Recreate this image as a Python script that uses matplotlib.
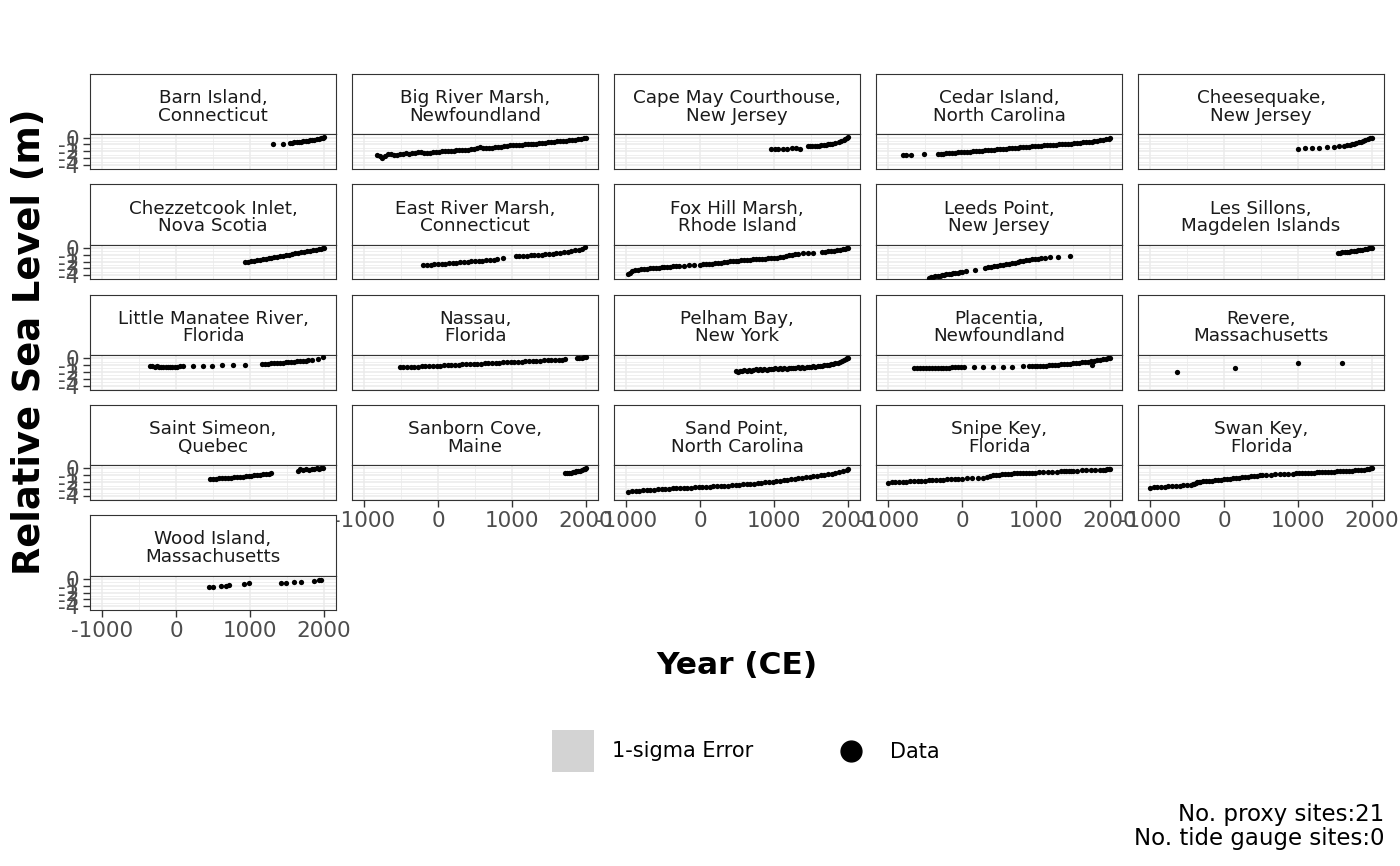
import matplotlib
matplotlib.use("Agg")
import matplotlib.pyplot as plt
from matplotlib.patches import Rectangle

plt.rcParams['font.family'] = ['DejaVu Sans']
plt.rcParams['axes.unicode_minus'] = False

# ---------------- data ----------------
site_names = [
    "Barn Island,\nConnecticut", "Big River Marsh,\nNewfoundland", "Cape May Courthouse,\nNew Jersey",
    "Cedar Island,\nNorth Carolina", "Cheesequake,\nNew Jersey",
    "Chezzetcook Inlet,\nNova Scotia", "East River Marsh,\nConnecticut", "Fox Hill Marsh,\nRhode Island",
    "Leeds Point,\nNew Jersey", "Les Sillons,\nMagdelen Islands",
    "Little Manatee River,\nFlorida", "Nassau,\nFlorida", "Pelham Bay,\nNew York",
    "Placentia,\nNewfoundland", "Revere,\nMassachusetts",
    "Saint Simeon,\nQuebec", "Sanborn Cove,\nMaine", "Sand Point,\nNorth Carolina",
    "Snipe Key,\nFlorida", "Swan Key,\nFlorida",
    "Wood Island,\nMassachusetts",
]

barn_year = [1315, 1450, 1540, 1570, 1600, 1630, 1660, 1690, 1720, 1750, 1780, 1810, 1840, 1870, 1900, 1930, 1960, 1985, 2000]
barn_rsl = [-0.95, -0.92, -0.80, -0.76, -0.72, -0.69, -0.65, -0.61, -0.56, -0.52, -0.47, -0.42, -0.36, -0.30, -0.23, -0.16, -0.09, -0.03, 0.02]

bigriver_year = [-830, -790, -750, -710, -670, -630, -590, -550, -510, -470, -430, -390, -350, -310, -270, -230, -190, -150,
                 -110, -70, -30, 10, 50, 90, 130, 170, 210, 250, 290, 330, 370, 410, 450, 490, 530, 570, 610, 650, 690, 730,
                 770, 810, 850, 890, 930, 970, 1010, 1050, 1090, 1130, 1170, 1210, 1250, 1290, 1330, 1370, 1410, 1450, 1490,
                 1530, 1570, 1610, 1650, 1690, 1730, 1770, 1810, 1850, 1890, 1930, 1970, 2000]
bigriver_rsl = [-2.55, -2.75, -3.0, -2.7, -2.45, -2.4, -2.5, -2.55, -2.45, -2.35, -2.3, -2.35, -2.3, -2.25, -2.15, -2.1, -2.2, -2.25,
                -2.2, -2.12, -2.08, -2.05, -2.0, -1.97, -1.93, -1.95, -1.9, -1.87, -1.88, -1.85, -1.8, -1.76, -1.72, -1.68, -1.5, -1.42,
                -1.55, -1.58, -1.5, -1.45, -1.4, -1.36, -1.32, -1.28, -1.22, -1.15, -1.1, -1.08, -1.05, -1.02, -0.98, -0.95, -0.93,
                -0.9, -0.87, -0.84, -0.8, -0.75, -0.7, -0.65, -0.6, -0.56, -0.52, -0.48, -0.45, -0.4, -0.35, -0.3, -0.24, -0.18, -0.1, -0.03]

capemay_year = [960, 1010, 1060, 1120, 1180, 1240, 1300, 1350, 1460, 1490, 1520, 1550, 1580, 1610, 1640, 1670, 1700, 1730,
                1760, 1790, 1820, 1880, 1910, 1940, 1960, 1980, 2000]
capemay_rsl = [-1.72, -1.68, -1.62, -1.6, -1.65, -1.58, -1.55, -1.6, -1.3, -1.27, -1.25, -1.22, -1.2, -1.16, -1.12, -1.08, -1.05, -1.0,
               -0.95, -0.9, -0.85, -0.6, -0.45, -0.3, -0.2, -0.08, 0.02]

cedar_year = [-800, -750, -690, -510, -330, -290, -250, -210, -170, -130, -90, -50, -10, 30, 70, 110, 150, 190, 230, 270, 310, 350,
              390, 430, 470, 510, 550, 590, 630, 670, 710, 750, 790, 830, 870, 910, 950, 990, 1030, 1070, 1110, 1150, 1190, 1230,
              1270, 1310, 1350, 1390, 1430, 1470, 1510, 1550, 1590, 1630, 1670, 1710, 1750, 1790, 1830, 1870, 1910, 1950, 1980, 2000]
cedar_rsl = [-2.55, -2.55, -2.52, -2.45, -2.40, -2.37, -2.33, -2.30, -2.27, -2.24, -2.20, -2.16, -2.12, -2.09, -2.06, -2.03, -2.0,
             -1.96, -1.93, -1.9, -1.86, -1.82, -1.78, -1.74, -1.7, -1.66, -1.63, -1.6, -1.57, -1.53, -1.5, -1.47, -1.43, -1.4, -1.37,
             -1.33, -1.29, -1.25, -1.21, -1.18, -1.15, -1.12, -1.09, -1.06, -1.03, -1.0, -0.97, -0.93, -0.9, -0.87, -0.84, -0.8,
             -0.76, -0.72, -0.68, -0.64, -0.59, -0.54, -0.49, -0.43, -0.35, -0.25, -0.15, -0.08]

cheese_year = [1000, 1090, 1190, 1290, 1390, 1480, 1560, 1620, 1660, 1700, 1730, 1760, 1790, 1820, 1850, 1880, 1910, 1940, 1970, 2000]
cheese_rsl = [-1.6, -1.55, -1.5, -1.46, -1.4, -1.33, -1.25, -1.18, -1.12, -1.05, -0.98, -0.9, -0.82, -0.72, -0.62, -0.5, -0.38, -0.25, -0.12, 0.0]

chezz_year = [930, 970, 1010, 1050, 1090, 1130, 1170, 1210, 1250, 1290, 1330, 1370, 1410, 1450, 1490, 1530, 1570, 1610, 1650,
              1690, 1730, 1770, 1810, 1850, 1890, 1930, 1960, 1985, 2000]
chezz_rsl = [-2.1, -2.02, -1.95, -1.87, -1.8, -1.72, -1.64, -1.57, -1.5, -1.42, -1.35, -1.27, -1.2, -1.12, -1.05, -0.97, -0.9, -0.82,
             -0.75, -0.67, -0.6, -0.52, -0.44, -0.36, -0.28, -0.18, -0.1, -0.04, 0.02]

east_year = [-200, -150, -100, -50, 0, 50, 100, 150, 200, 250, 300, 350, 400, 450, 500, 550, 600, 650, 700, 750, 800, 880, 1050,
             1100, 1150, 1200, 1250, 1300, 1350, 1400, 1450, 1500, 1550, 1600, 1650, 1700, 1750, 1800, 1850, 1900, 1950, 1990]
east_rsl = [-2.55, -2.5, -2.45, -2.42, -2.38, -2.34, -2.3, -2.25, -2.2, -2.15, -2.1, -2.05, -2.0, -1.97, -1.93, -1.88, -1.84, -1.8,
            -1.75, -1.72, -1.68, -1.45, -1.25, -1.2, -1.18, -1.15, -1.1, -1.07, -1.03, -1.0, -0.95, -0.9, -0.85, -0.8, -0.72, -0.65,
            -0.55, -0.45, -0.35, -0.25, -0.1, 0.05]

fox_year = [-970, -950, -920, -880, -840, -800, -760, -720, -680, -640, -600, -560, -520, -480, -440, -400, -360, -320, -280,
            -220, -150, -80, 0, 40, 80, 120, 160, 200, 240, 280, 320, 360, 400, 440, 480, 520, 560, 600, 640, 680, 720, 760, 800,
            840, 880, 920, 960, 1000, 1040, 1080, 1120, 1160, 1200, 1240, 1280, 1320, 1390, 1460, 1530, 1650, 1690, 1730, 1770,
            1810, 1850, 1890, 1930, 1960, 1990, 2000]
fox_rsl = [-3.75, -3.6, -3.4, -3.25, -3.18, -3.12, -3.07, -3.02, -2.98, -2.94, -2.9, -2.86, -2.82, -2.78, -2.75, -2.72, -2.68, -2.65,
           -2.62, -2.58, -2.54, -2.5, -2.44, -2.41, -2.37, -2.33, -2.28, -2.23, -2.18, -2.14, -2.1, -2.05, -1.98, -1.93, -1.9,
           -1.86, -1.82, -1.79, -1.76, -1.72, -1.69, -1.66, -1.63, -1.6, -1.57, -1.53, -1.49, -1.45, -1.41, -1.35, -1.27, -1.18,
           -1.08, -1.0, -0.92, -0.86, -0.82, -0.79, -0.75, -0.62, -0.56, -0.5, -0.45, -0.4, -0.35, -0.28, -0.22, -0.15, -0.08, -0.05]

leeds_year = [-450, -420, -390, -360, -330, -300, -270, -240, -210, -180, -150, -120, -90, -60, -30, 0, 55, 175, 310, 350, 390,
              430, 470, 510, 550, 590, 630, 670, 710, 750, 790, 830, 870, 910, 950, 990, 1030, 1070, 1120, 1190, 1300, 1460]
leeds_rsl = [-4.38, -4.3, -4.22, -4.15, -4.1, -4.05, -3.98, -3.92, -3.86, -3.8, -3.75, -3.7, -3.65, -3.6, -3.56, -3.52, -3.4, -3.2,
             -2.93, -2.85, -2.78, -2.71, -2.62, -2.54, -2.46, -2.38, -2.3, -2.22, -2.14, -2.06, -1.98, -1.9, -1.82, -1.75, -1.68,
             -1.62, -1.56, -1.52, -1.47, -1.4, -1.3, -1.2]

sillons_year = [1540, 1570, 1600, 1630, 1660, 1690, 1720, 1750, 1780, 1810, 1840, 1870, 1900, 1930, 1960, 1985, 2000]
sillons_rsl = [-0.75, -0.7, -0.66, -0.62, -0.58, -0.54, -0.5, -0.45, -0.41, -0.36, -0.31, -0.26, -0.2, -0.14, -0.07, -0.02, 0.04]

manatee_year = [-350, -320, -290, -260, -230, -200, -170, -140, -110, -80, -50, -20, 10, 50, 90, 230, 365, 490, 620, 770, 930,
                1160, 1200, 1240, 1280, 1320, 1360, 1400, 1440, 1480, 1520, 1560, 1600, 1640, 1680, 1720, 1760, 1790, 1840, 1920, 1985]
manatee_rsl = [-1.18, -1.2, -1.22, -1.2, -1.24, -1.25, -1.23, -1.25, -1.27, -1.25, -1.24, -1.22, -1.22, -1.2, -1.18, -1.15, -1.12,
               -1.08, -1.05, -1.0, -0.95, -0.85, -0.82, -0.8, -0.77, -0.74, -0.7, -0.67, -0.64, -0.6, -0.57, -0.53, -0.5, -0.47,
               -0.43, -0.4, -0.36, -0.33, -0.2, -0.08, 0.1]

nassau_year = [-520, -470, -420, -370, -320, -270, -220, -170, -120, -70, -20, 30, 80, 130, 180, 230, 280, 330, 380, 430, 480, 530,
               580, 630, 680, 730, 780, 830, 880, 930, 980, 1030, 1080, 1130, 1180, 1230, 1280, 1330, 1380, 1430, 1480, 1530, 1580,
               1630, 1680, 1710, 1880, 1910, 1940, 1970, 2000]
nassau_rsl = [-1.35, -1.33, -1.3, -1.27, -1.25, -1.22, -1.2, -1.17, -1.14, -1.12, -1.09, -1.07, -1.04, -1.01, -0.99, -0.96, -0.94,
              -0.91, -0.88, -0.86, -0.83, -0.81, -0.78, -0.75, -0.73, -0.7, -0.68, -0.65, -0.62, -0.6, -0.57, -0.55, -0.52, -0.49,
              -0.47, -0.44, -0.42, -0.39, -0.36, -0.34, -0.31, -0.29, -0.26, -0.23, -0.21, -0.19, -0.05, 0.0, 0.05, 0.1, 0.14]

pelham_year = [480, 510, 540, 570, 600, 630, 660, 690, 720, 750, 780, 810, 840, 870, 900, 930, 960, 990, 1020, 1050, 1080, 1110,
               1140, 1170, 1200, 1230, 1260, 1290, 1320, 1350, 1380, 1410, 1440, 1470, 1500, 1530, 1560, 1590, 1620, 1650, 1680,
               1710, 1740, 1770, 1800, 1830, 1860, 1890, 1920, 1950, 1970, 1990, 2000]
pelham_rsl = [-1.85, -1.95, -1.8, -1.9, -1.75, -1.85, -1.7, -1.8, -1.72, -1.65, -1.75, -1.62, -1.7, -1.6, -1.66, -1.55, -1.62, -1.58,
              -1.5, -1.57, -1.48, -1.55, -1.45, -1.52, -1.42, -1.47, -1.4, -1.45, -1.35, -1.4, -1.33, -1.37, -1.28, -1.32, -1.25,
              -1.2, -1.27, -1.15, -1.1, -1.18, -1.05, -1.0, -0.95, -0.88, -0.85, -0.75, -0.65, -0.55, -0.4, -0.3, -0.15, -0.05, 0.02]

placentia_year = [-650, -610, -570, -530, -490, -450, -410, -370, -330, -290, -250, -210, -170, -130, -90, -50, -10, 30,
                  160, 290, 420, 550, 680, 820,
                  900, 940, 980, 1020, 1060, 1100, 1140, 1180, 1220, 1260, 1300, 1340, 1380, 1420, 1460, 1500, 1540, 1580, 1620,
                  1660, 1700, 1740, 1750, 1780, 1820, 1860, 1900, 1940, 1970, 2000]
placentia_rsl = [-1.5, -1.48, -1.47, -1.45, -1.45, -1.43, -1.42, -1.42, -1.4, -1.4, -1.38, -1.37, -1.37, -1.35, -1.35, -1.33, -1.32, -1.3,
                 -1.28, -1.26, -1.25, -1.25, -1.23, -1.2,
                 -1.2, -1.18, -1.16, -1.14, -1.12, -1.1, -1.07, -1.05, -1.02, -0.99, -0.96, -0.92, -0.88, -0.84, -0.8, -0.75, -0.7,
                 -0.65, -0.6, -0.55, -0.5, -0.45, -0.95, -0.35, -0.28, -0.2, -0.13, -0.07, -0.02, 0.03]

revere_year = [-640, 150, 995, 1590]
revere_rsl = [-1.95, -1.4, -0.75, -0.68]

simeon_year = [460, 500, 540, 580, 620, 660, 700, 740, 780, 820, 860, 900, 940, 980, 1020, 1060, 1100, 1140, 1180, 1220, 1260,
               1290, 1650, 1680, 1720, 1760, 1800, 1840, 1870, 1900, 1930, 1960, 1990]
simeon_rsl = [-1.55, -1.5, -1.48, -1.45, -1.42, -1.38, -1.35, -1.32, -1.28, -1.25, -1.22, -1.18, -1.15, -1.1, -1.06, -1.02, -0.98,
              -0.93, -0.88, -0.83, -0.78, -0.72, -0.3, -0.15, -0.25, -0.1, -0.2, -0.05, -0.1, 0.0, -0.05, 0.05, 0.1]

sanborn_year = [1720, 1745, 1770, 1795, 1820, 1845, 1870, 1895, 1920, 1945, 1970, 1990, 2000]
sanborn_rsl = [-0.7, -0.67, -0.63, -0.6, -0.56, -0.5, -0.44, -0.37, -0.3, -0.22, -0.12, -0.04, 0.02]

sand_year = [-970, -920, -870, -820, -770, -720, -670, -620, -570, -520, -470, -420, -370, -320, -270, -220, -170, -120, -70, -20,
             30, 80, 130, 180, 230, 280, 330, 380, 430, 480, 530, 580, 630, 680, 730, 780, 830, 880, 930, 980, 1030, 1080, 1130,
             1180, 1230, 1280, 1330, 1380, 1430, 1480, 1530, 1580, 1630, 1680, 1730, 1780, 1830, 1880, 1930, 1980, 2000]
sand_rsl = [-3.35, -3.31, -3.27, -3.23, -3.19, -3.15, -3.12, -3.08, -3.04, -3.0, -2.97, -2.94, -2.91, -2.88, -2.86, -2.83, -2.8,
            -2.78, -2.75, -2.73, -2.7, -2.67, -2.64, -2.61, -2.58, -2.55, -2.51, -2.48, -2.44, -2.41, -2.37, -2.33, -2.29, -2.25,
            -2.2, -2.15, -2.1, -2.04, -1.98, -1.92, -1.86, -1.79, -1.72, -1.65, -1.57, -1.5, -1.42, -1.35, -1.27, -1.2, -1.13,
            -1.06, -0.99, -0.92, -0.85, -0.77, -0.68, -0.55, -0.42, -0.25, -0.15]

snipe_year = [-1000, -950, -900, -850, -800, -750, -700, -650, -600, -550, -500, -450, -400, -350, -300, -250, -200, -150, -100, -50,
              0, 70, 140, 210, 280,
              340, 380, 420, 460, 500, 540, 580, 620, 660, 700, 740, 780, 820, 860, 900, 940, 980,
              1040, 1100, 1160, 1220, 1280, 1340, 1380, 1410, 1440, 1470, 1500, 1560, 1620, 1680, 1740, 1800, 1860,
              1900, 1930, 1960, 1990, 2000]
snipe_rsl = [-2.05, -2.02, -1.99, -1.96, -1.93, -1.9, -1.88, -1.85, -1.82, -1.8, -1.77, -1.74, -1.71, -1.69, -1.66, -1.63, -1.6,
             -1.57, -1.54, -1.51,
             -1.48, -1.45, -1.42, -1.4, -1.38,
             -1.2, -1.1, -1.02, -0.95, -0.9, -0.85, -0.82, -0.78, -0.75, -0.73, -0.71, -0.69, -0.67, -0.65, -0.63, -0.61, -0.6,
             -0.55, -0.53, -0.5, -0.48, -0.46, -0.44, -0.4, -0.38, -0.36, -0.35, -0.33, -0.3, -0.28, -0.27, -0.25, -0.23, -0.2,
             -0.18, -0.16, -0.14, -0.12, -0.1]

swan_year = [-1000, -950, -900, -850, -800, -750, -700, -650, -600, -550, -500, -450, -420,
             -400, -380, -360, -340, -320,
             -280, -240, -200, -160, -120, -80, -40, 0, 40, 80, 120, 160, 200, 240, 280, 320, 360, 400, 440, 480, 520,
             570, 630, 690, 750, 810, 870,
             930, 970, 1010, 1050, 1090, 1130, 1170, 1210, 1250, 1290, 1330, 1370, 1410, 1450, 1490, 1530, 1570, 1610, 1650,
             1690, 1730, 1770, 1810, 1850, 1890, 1930, 1960, 1990, 2000]
swan_rsl = [-2.78, -2.75, -2.72, -2.68, -2.65, -2.61, -2.58, -2.54, -2.5, -2.46, -2.42, -2.36, -2.3,
            -2.2, -2.1, -2.02, -1.96, -1.92,
            -1.88, -1.84, -1.8, -1.76, -1.72, -1.68, -1.64, -1.6, -1.55, -1.5, -1.45, -1.4, -1.35, -1.3, -1.25, -1.2, -1.15,
            -1.1, -1.05, -1.0, -0.96,
            -0.93, -0.9, -0.87, -0.84, -0.8, -0.77,
            -0.74, -0.72, -0.7, -0.68, -0.66, -0.64, -0.62, -0.6, -0.58, -0.56, -0.54, -0.52, -0.5, -0.48, -0.46, -0.44, -0.42,
            -0.4, -0.38, -0.35, -0.32, -0.29, -0.26, -0.22, -0.18, -0.12, -0.06, 0.02, 0.08]

wood_year = [441, 495, 608, 676, 721, 923, 991, 1419, 1486, 1599, 1689, 1869, 1937, 1959]
wood_rsl = [-1.26, -1.2, -1.1, -1.02, -0.9, -0.7, -0.68, -0.6, -0.58, -0.5, -0.47, -0.3, -0.15, -0.12]

site_years = [barn_year, bigriver_year, capemay_year, cedar_year, cheese_year,
              chezz_year, east_year, fox_year, leeds_year, sillons_year,
              manatee_year, nassau_year, pelham_year, placentia_year, revere_year,
              simeon_year, sanborn_year, sand_year, snipe_year, swan_year,
              wood_year]
site_rsl = [barn_rsl, bigriver_rsl, capemay_rsl, cedar_rsl, cheese_rsl,
            chezz_rsl, east_rsl, fox_rsl, leeds_rsl, sillons_rsl,
            manatee_rsl, nassau_rsl, pelham_rsl, placentia_rsl, revere_rsl,
            simeon_rsl, sanborn_rsl, sand_rsl, snipe_rsl, swan_rsl,
            wood_rsl]

x_ticks = [-1000, 0, 1000, 2000]
x_tick_labels = ["-1000", "0", "1000", "2000"]
y_ticks = [0, -1, -2, -3, -4]
y_tick_labels = ["0", "-1", "-2", "-3", "-4"]
x_minor = [-500, 500, 1500]
y_minor = [0.5, -0.5, -1.5, -2.5, -3.5, -4.5]

n_proxy = 21
n_tide = 0

# ---------------- layout ----------------
W, H = 1400, 866
fig = plt.figure(figsize=(W / 100, H / 100), dpi=100)


def rect(x, y, w, h):
    return [x / W, 1 - (y + h) / H, w / W, h / H]


ncol = 5
col_left = 90
col_step = 262
panel_w = 246
row_top0 = 134.3
row_step = 110.3
strip_h = 60.3
panel_h = 34.7
XLIM = (-1162, 2162)
YLIM = (-4.57, 0.47)
border = '#333333'

n = len(site_names)
last_row_of_col = {}
for i in range(n):
    last_row_of_col[i % ncol] = i // ncol

for i in range(n):
    r, c = divmod(i, ncol)
    x0 = col_left + c * col_step
    ptop = row_top0 + r * row_step
    # strip
    sax = fig.add_axes(rect(x0, ptop - strip_h, panel_w, strip_h))
    sax.set_facecolor('white')
    sax.set_xticks([]); sax.set_yticks([])
    for s in sax.spines.values():
        s.set_color(border); s.set_linewidth(0.8)
    line1, line2 = site_names[i].split("\n")
    sax.text(0.5, 1 - 29.3 / strip_h, line1, ha='center', va='baseline', fontsize=13.2,
             color='#1A1A1A', transform=sax.transAxes)
    sax.text(0.5, 1 - 46.7 / strip_h, line2, ha='center', va='baseline', fontsize=13.2,
             color='#1A1A1A', transform=sax.transAxes)
    # panel
    ax = fig.add_axes(rect(x0, ptop, panel_w, panel_h))
    ax.set_facecolor('white')
    ax.set_xlim(*XLIM); ax.set_ylim(*YLIM)
    for xv in x_minor:
        ax.axvline(xv, color='#EBEBEB', lw=0.55, zorder=0)
    for yv in y_minor:
        ax.axhline(yv, color='#EBEBEB', lw=0.55, zorder=0)
    for xv in x_ticks:
        ax.axvline(xv, color='#EBEBEB', lw=1.1, zorder=0)
    for yv in y_ticks:
        ax.axhline(yv, color='#EBEBEB', lw=1.1, zorder=0)
    ax.plot(site_years[i], site_rsl[i], 'o', ms=3.8, color='black', mec='black', mew=0, zorder=3)
    for s in ax.spines.values():
        s.set_color(border); s.set_linewidth(0.8)
    ax.set_yticks(y_ticks)
    if c == 0:
        ax.set_yticklabels(y_tick_labels)
        ax.tick_params(axis='y', length=5, width=1.0, color=border, labelsize=15.5,
                       labelcolor='#4D4D4D', pad=2.5)
    else:
        ax.tick_params(axis='y', length=0, labelleft=False)
    ax.set_xticks(x_ticks)
    if r == last_row_of_col[c]:
        ax.set_xticklabels(x_tick_labels)
        ax.tick_params(axis='x', length=5, width=1.0, color=border, labelsize=15.5,
                       labelcolor='#4D4D4D', pad=3)
    else:
        ax.tick_params(axis='x', length=0, labelbottom=False)

# axis titles
fig.text(737 / W, 1 - 666 / H, "Year (CE)", ha='center', va='center', fontsize=22.5,
         fontweight='bold', color='black')
fig.text(30 / W, 1 - 342 / H, "Relative Sea Level (m)", ha='center', va='center', fontsize=26.5,
         fontweight='bold', color='black', rotation=90)

# legend (drawn in figure pixels)
fig.patches.append(Rectangle((552 / W, 1 - 772 / H), 42 / W, 42 / H, transform=fig.transFigure,
                             facecolor='#D3D3D3', edgecolor='none'))
fig.text(612 / W, 1 - 751 / H, "1-sigma Error", ha='left', va='center', fontsize=15, color='black')
lax = fig.add_axes(rect(831, 731, 40, 40))
lax.set_xlim(0, 40); lax.set_ylim(0, 40); lax.axis('off')
lax.plot([20], [20], 'o', ms=15, color='black')
fig.text(890 / W, 1 - 752 / H, "Data", ha='left', va='center', fontsize=15, color='black')

# caption
fig.text(1384 / W, 1 - 815 / H, f"No. proxy sites:{n_proxy}", ha='right', va='center', fontsize=16.5, color='black')
fig.text(1384 / W, 1 - 838 / H, f"No. tide gauge sites:{n_tide}", ha='right', va='center', fontsize=16.5, color='black')

fig.savefig("out.png", dpi=100, facecolor='white')
